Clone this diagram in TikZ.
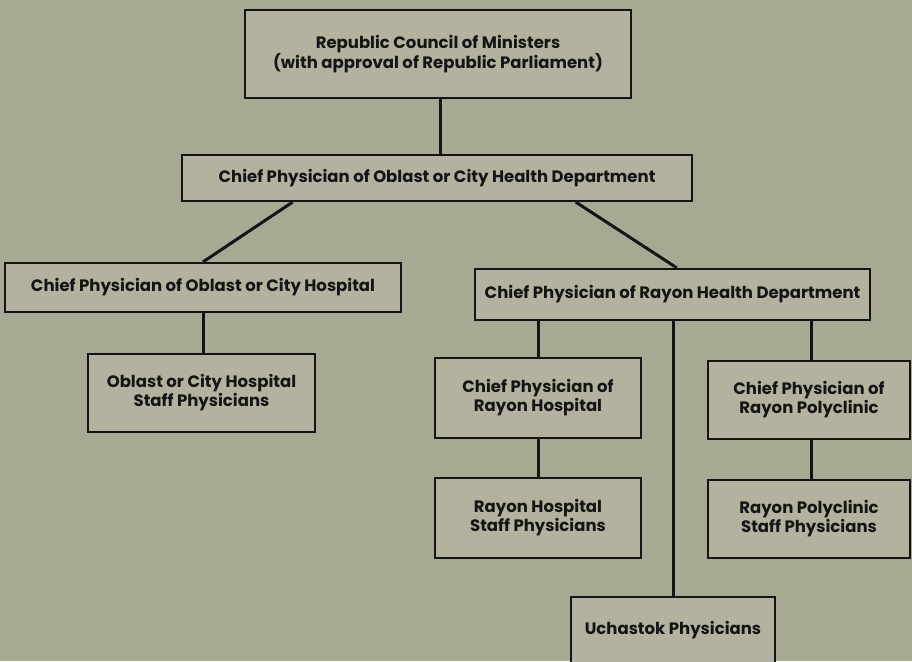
\documentclass[tikz,border=0pt]{standalone}
\usepackage{fontspec}
\setmainfont{Poppins}
\usetikzlibrary{calc}
\definecolor{bgcol}{HTML}{A8A993}
\definecolor{boxcol}{HTML}{B3B29E}
\definecolor{inkcol}{HTML}{141414}
\tikzset{
  orgbox/.style={draw=inkcol, line width=2.2pt, fill=boxcol, inner sep=0pt,
    align=center, text=inkcol, font=\fontsize{16.5}{19}\selectfont\bfseries},
  link/.style={draw=inkcol, line width=3pt}
}
\begin{document}
\begin{tikzpicture}[x=1pt,y=-1pt]
\useasboundingbox (0,0) rectangle (912,661);
\clip (0,0) rectangle (912,661);
\fill[bgcol] (0,0) rectangle (912,661);
% nodes
\node[orgbox, minimum width=386pt, minimum height=88pt] (top) at (438,54)
  {Republic Council of Ministers\\(with approval of Republic Parliament)};
\node[orgbox, minimum width=510pt, minimum height=46pt] (hd) at (437,178)
  {Chief Physician of Oblast or City Health Department};
\node[orgbox, minimum width=396pt, minimum height=49pt] (hosp) at (203,287.5)
  {Chief Physician of Oblast or City Hospital};
\node[orgbox, minimum width=227pt, minimum height=78pt] (hstaff) at (201.5,393)
  {Oblast or City Hospital\\Staff Physicians};
\node[orgbox, minimum width=395pt, minimum height=51pt] (rhd) at (672.5,294.5)
  {Chief Physician of Rayon Health Department};
\node[orgbox, minimum width=206pt, minimum height=80pt] (rhosp) at (538,398)
  {Chief Physician of\\Rayon Hospital};
\node[orgbox, minimum width=206pt, minimum height=80pt] (rhstaff) at (538,518)
  {Rayon Hospital\\Staff Physicians};
\node[orgbox, minimum width=202pt, minimum height=78pt] (rpoly) at (809,400)
  {Chief Physician of\\Rayon Polyclinic};
\node[orgbox, minimum width=202pt, minimum height=78pt] (rpstaff) at (809,519)
  {Rayon Polyclinic\\Staff Physicians};
\node[orgbox, minimum width=204pt, minimum height=67pt] (uch) at (673,630.5)
  {Uchastok Physicians};
% connectors
\draw[link] ($(top.south)+(2,0)$) -- ($(top.south |- hd.north)+(2,0)$);
\draw[link] ($(hd.south west)!0.218!(hd.south east)$) -- (hosp.north);
\draw[link] ($(hd.south west)!0.771!(hd.south east)$) -- ($(rhd.north west)!0.511!(rhd.north east)$);
\draw[link] (hosp.south) -- (hosp.south |- hstaff.north);
\draw[link] (rhosp.north |- rhd.south) -- (rhosp.north);
\draw[link] (uch.north |- rhd.south) -- (uch.north);
\draw[link] ($(rpoly.north |- rhd.south)+(2,0)$) -- ($(rpoly.north)+(2,0)$);
\draw[link] (rhosp.south) -- (rhstaff.north);
\draw[link] ($(rpoly.south)+(2,0)$) -- ($(rpstaff.north)+(2,0)$);
\end{tikzpicture}
\end{document}
